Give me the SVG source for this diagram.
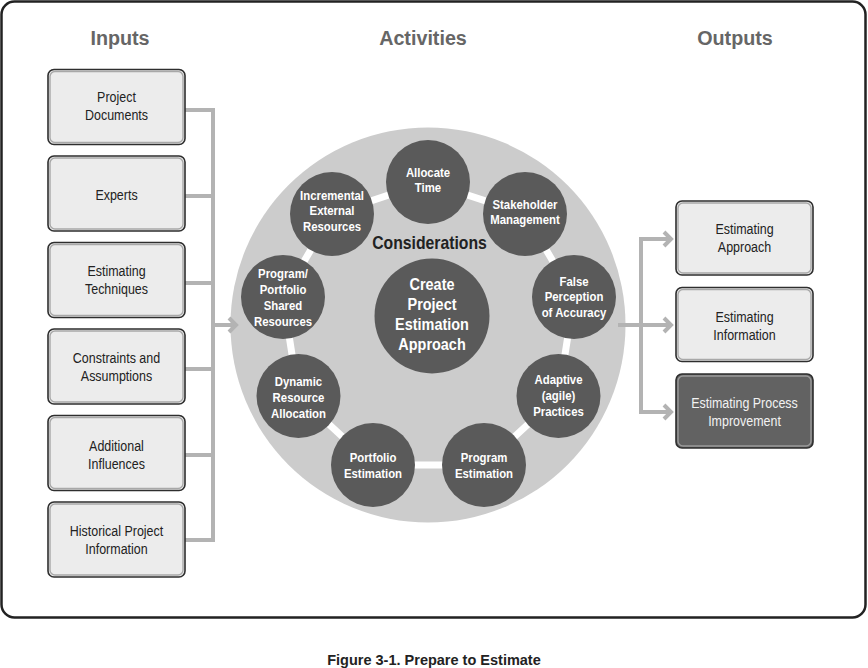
<svg xmlns="http://www.w3.org/2000/svg" width="868" height="668" viewBox="0 0 868 668">
  <defs>
    <style>
      .frame { fill: #ffffff; stroke: #222222; stroke-width: 2.5; }
      .title { font-family: "Liberation Sans", Arial, sans-serif; font-weight: bold; font-size: 21px; fill: #666666; text-anchor: middle; }
      .box { fill: #ececec; stroke: #2e2e2e; stroke-width: 1.6; }
      .boxin { fill: none; stroke: #a8a8a8; stroke-width: 1.4; }
      .dbox { fill: #626262; stroke: #2e2e2e; stroke-width: 1.6; }
      .dboxin { fill: none; stroke: #9a9a9a; stroke-width: 1.4; }
      .bt { font-family: "Liberation Sans", Arial, sans-serif; font-size: 14.5px; fill: #222222; text-anchor: middle; }
      .bw { fill: #f2f2f2; }
      .big { fill: #cccccc; }
      .ring { fill: none; stroke: #ffffff; stroke-width: 7; }
      .c { fill: #5a5a5a; }
      .ct { font-family: "Liberation Sans", Arial, sans-serif; font-weight: bold; font-size: 12.5px; fill: #ffffff; text-anchor: middle; }
      .cc { font-family: "Liberation Sans", Arial, sans-serif; font-weight: bold; font-size: 17px; fill: #ffffff; text-anchor: middle; }
      .cons { font-family: "Liberation Sans", Arial, sans-serif; font-weight: bold; font-size: 19px; fill: #222222; text-anchor: middle; }
      .cap { font-family: "Liberation Sans", Arial, sans-serif; font-weight: bold; font-size: 14.5px; fill: #222222; text-anchor: middle; }
      .ln { fill: none; stroke: #b3b3b3; stroke-width: 4; }
      .ah { fill: none; stroke: #b3b3b3; stroke-width: 4; stroke-linejoin: miter; }
    </style>
  </defs>

  <rect class="frame" x="1.5" y="1.5" width="864" height="616" rx="13" ry="13"/>

  <text class="title" transform="translate(120,45) scale(0.94,1)">Inputs</text>
  <text class="title" transform="translate(423,45) scale(0.94,1)">Activities</text>
  <text class="title" transform="translate(735,45) scale(0.94,1)">Outputs</text>

  <!-- Activities background -->
  <g id="activities">
    <circle class="big" cx="428" cy="325" r="197.5"/>
    <polygon class="ring" points="428,182 525,214 574,297 558.5,396 484,465 373,465 298.5,396 283,297 332,214"/>
  </g>

  <!-- Connectors -->
  <g id="connectors">
    <polyline class="ln" points="185,110 213,110 213,540 185,540"/>
    <line class="ln" x1="185" y1="196" x2="213" y2="196"/>
    <line class="ln" x1="185" y1="283" x2="213" y2="283"/>
    <line class="ln" x1="185" y1="369" x2="213" y2="369"/>
    <line class="ln" x1="185" y1="455" x2="213" y2="455"/>
    <line class="ln" x1="213" y1="325" x2="236" y2="325"/>
    <polyline class="ah" points="229,318 236,325 229,332"/>

    <line class="ln" x1="618" y1="325" x2="671" y2="325"/>
    <polyline class="ln" points="671,239 641,239 641,412 671,412"/>
    <polyline class="ah" points="664,232 671,239 664,246"/>
    <polyline class="ah" points="664,318 671,325 664,332"/>
    <polyline class="ah" points="664,405 671,412 664,419"/>
  </g>

  <!-- Inputs -->
  <g id="in-project-documents">
    <rect class="box" x="48" y="69.5" width="137" height="75" rx="6"/>
    <rect class="boxin" x="50" y="71.5" width="133" height="71" rx="5"/>
    <text class="bt" transform="translate(116.5,102) scale(0.86,1)">Project</text>
    <text class="bt" transform="translate(116.5,120) scale(0.86,1)">Documents</text>
  </g>
  <g id="in-experts">
    <rect class="box" x="48" y="156" width="137" height="75" rx="6"/>
    <rect class="boxin" x="50" y="158" width="133" height="71" rx="5"/>
    <text class="bt" transform="translate(116.5,200) scale(0.86,1)">Experts</text>
  </g>
  <g id="in-estimating-techniques">
    <rect class="box" x="48" y="242.5" width="137" height="75" rx="6"/>
    <rect class="boxin" x="50" y="244.5" width="133" height="71" rx="5"/>
    <text class="bt" transform="translate(116.5,276) scale(0.86,1)">Estimating</text>
    <text class="bt" transform="translate(116.5,294) scale(0.86,1)">Techniques</text>
  </g>
  <g id="in-constraints">
    <rect class="box" x="48" y="329" width="137" height="75" rx="6"/>
    <rect class="boxin" x="50" y="331" width="133" height="71" rx="5"/>
    <text class="bt" transform="translate(116.5,363) scale(0.86,1)">Constraints and</text>
    <text class="bt" transform="translate(116.5,381) scale(0.86,1)">Assumptions</text>
  </g>
  <g id="in-additional-influences">
    <rect class="box" x="48" y="415.5" width="137" height="75" rx="6"/>
    <rect class="boxin" x="50" y="417.5" width="133" height="71" rx="5"/>
    <text class="bt" transform="translate(116.5,451) scale(0.86,1)">Additional</text>
    <text class="bt" transform="translate(116.5,469) scale(0.86,1)">Influences</text>
  </g>
  <g id="in-historical">
    <rect class="box" x="48" y="502" width="137" height="75" rx="6"/>
    <rect class="boxin" x="50" y="504" width="133" height="71" rx="5"/>
    <text class="bt" transform="translate(116.5,536) scale(0.86,1)">Historical Project</text>
    <text class="bt" transform="translate(116.5,554) scale(0.86,1)">Information</text>
  </g>

  <!-- Considerations circles -->
  <g id="allocate-time">
    <circle class="c" cx="428" cy="182" r="42"/>
    <text class="ct" transform="translate(428,177) scale(0.91,1)">Allocate</text>
    <text class="ct" transform="translate(428,192) scale(0.91,1)">Time</text>
  </g>
  <g id="stakeholder-management">
    <circle class="c" cx="525" cy="214" r="42"/>
    <text class="ct" transform="translate(525,209) scale(0.91,1)">Stakeholder</text>
    <text class="ct" transform="translate(525,224) scale(0.91,1)">Management</text>
  </g>
  <g id="false-perception">
    <circle class="c" cx="574" cy="297" r="42"/>
    <text class="ct" transform="translate(574,286) scale(0.91,1)">False</text>
    <text class="ct" transform="translate(574,301) scale(0.91,1)">Perception</text>
    <text class="ct" transform="translate(574,317) scale(0.91,1)">of Accuracy</text>
  </g>
  <g id="adaptive-practices">
    <circle class="c" cx="558.5" cy="396" r="42"/>
    <text class="ct" transform="translate(558.5,384) scale(0.91,1)">Adaptive</text>
    <text class="ct" transform="translate(558.5,400) scale(0.91,1)">(agile)</text>
    <text class="ct" transform="translate(558.5,416) scale(0.91,1)">Practices</text>
  </g>
  <g id="program-estimation">
    <circle class="c" cx="484" cy="465" r="42"/>
    <text class="ct" transform="translate(484,462) scale(0.91,1)">Program</text>
    <text class="ct" transform="translate(484,478) scale(0.91,1)">Estimation</text>
  </g>
  <g id="portfolio-estimation">
    <circle class="c" cx="373" cy="465" r="42"/>
    <text class="ct" transform="translate(373,462) scale(0.91,1)">Portfolio</text>
    <text class="ct" transform="translate(373,478) scale(0.91,1)">Estimation</text>
  </g>
  <g id="dynamic-resource-allocation">
    <circle class="c" cx="298.5" cy="396" r="42"/>
    <text class="ct" transform="translate(298.5,386) scale(0.91,1)">Dynamic</text>
    <text class="ct" transform="translate(298.5,402) scale(0.91,1)">Resource</text>
    <text class="ct" transform="translate(298.5,418) scale(0.91,1)">Allocation</text>
  </g>
  <g id="shared-resources">
    <circle class="c" cx="283" cy="297" r="42"/>
    <text class="ct" transform="translate(283,278) scale(0.91,1)">Program/</text>
    <text class="ct" transform="translate(283,294) scale(0.91,1)">Portfolio</text>
    <text class="ct" transform="translate(283,310) scale(0.91,1)">Shared</text>
    <text class="ct" transform="translate(283,326) scale(0.91,1)">Resources</text>
  </g>
  <g id="incremental-external-resources">
    <circle class="c" cx="332" cy="214" r="42"/>
    <text class="ct" transform="translate(332,200) scale(0.91,1)">Incremental</text>
    <text class="ct" transform="translate(332,215) scale(0.91,1)">External</text>
    <text class="ct" transform="translate(332,231) scale(0.91,1)">Resources</text>
  </g>

  <text class="cons" transform="translate(429.5,249) scale(0.83,1)">Considerations</text>

  <g id="create-project-estimation-approach">
    <circle class="c" cx="432" cy="316" r="57.5"/>
    <text class="cc" transform="translate(432,290) scale(0.85,1)">Create</text>
    <text class="cc" transform="translate(432,310) scale(0.85,1)">Project</text>
    <text class="cc" transform="translate(432,330) scale(0.85,1)">Estimation</text>
    <text class="cc" transform="translate(432,350) scale(0.85,1)">Approach</text>
  </g>

  <!-- Outputs -->
  <g id="out-estimating-approach">
    <rect class="box" x="676" y="201" width="137" height="74" rx="6"/>
    <rect class="boxin" x="678" y="203" width="133" height="70" rx="5"/>
    <text class="bt" transform="translate(744.5,234) scale(0.86,1)">Estimating</text>
    <text class="bt" transform="translate(744.5,252) scale(0.86,1)">Approach</text>
  </g>
  <g id="out-estimating-information">
    <rect class="box" x="676" y="287.5" width="137" height="74" rx="6"/>
    <rect class="boxin" x="678" y="289.5" width="133" height="70" rx="5"/>
    <text class="bt" transform="translate(744.5,322) scale(0.86,1)">Estimating</text>
    <text class="bt" transform="translate(744.5,340) scale(0.86,1)">Information</text>
  </g>
  <g id="out-estimating-process-improvement">
    <rect class="dbox" x="676" y="374" width="137" height="74" rx="6"/>
    <rect class="dboxin" x="678" y="376" width="133" height="70" rx="5"/>
    <text class="bt bw" transform="translate(744.5,408) scale(0.86,1)">Estimating Process</text>
    <text class="bt bw" transform="translate(744.5,426) scale(0.86,1)">Improvement</text>
  </g>

  <text class="cap" x="434" y="665">Figure 3-1. Prepare to Estimate</text>
</svg>
